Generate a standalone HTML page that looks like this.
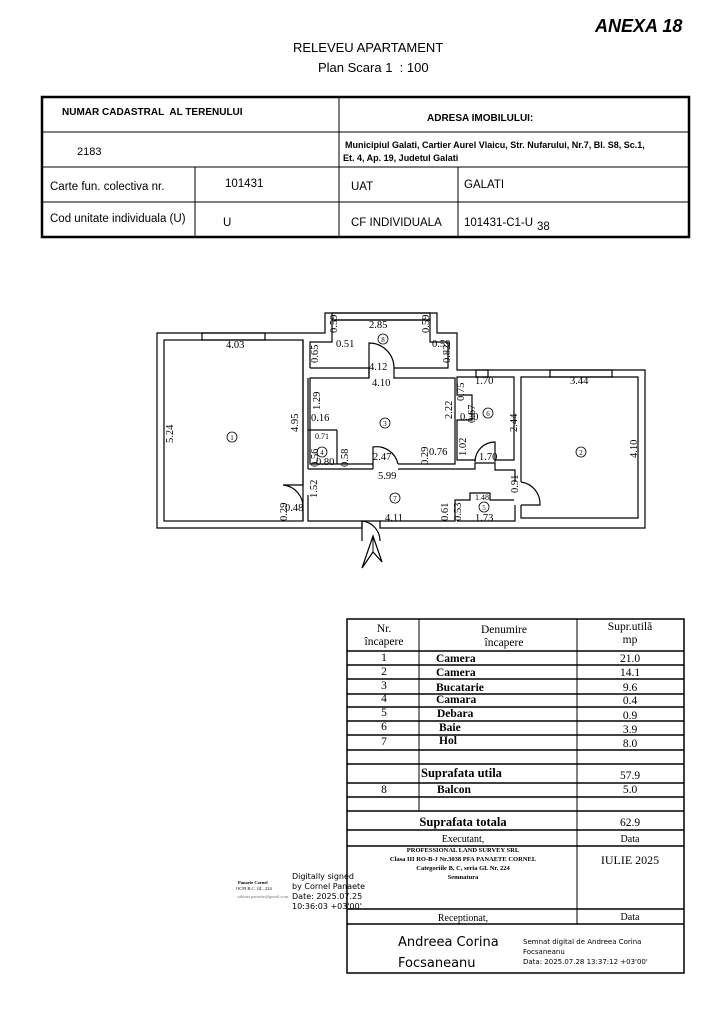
<!DOCTYPE html>
<html><head><meta charset="utf-8"><style>
body{margin:0;background:#fff;width:723px;height:1023px;overflow:hidden;position:relative;font-family:"Liberation Sans",sans-serif}
.a{position:absolute;white-space:nowrap}
svg{position:absolute;left:0;top:0}
</style></head><body>
<div class="a" style="left:595px;top:16px;font-size:18px;font-weight:bold;font-style:italic">ANEXA 18</div>
<div class="a" style="left:293px;top:40px;font-size:13px">RELEVEU APARTAMENT</div>
<div class="a" style="left:318px;top:60px;font-size:13px">Plan Scara 1&nbsp; : 100</div>

<svg width="723" height="1023" viewBox="0 0 723 1023" font-family="Liberation Serif, serif" font-size="10.5">
<g stroke="#000" fill="none">
<rect x="42" y="97" width="647" height="140" stroke-width="2.5"/>
<line x1="42" y1="132" x2="689" y2="132" stroke-width="1"/>
<line x1="42" y1="167" x2="689" y2="167"/>
<line x1="42" y1="202" x2="689" y2="202"/>
<line x1="339" y1="97" x2="339" y2="237"/>
<line x1="195" y1="167" x2="195" y2="237"/>
<line x1="458" y1="167" x2="458" y2="237"/>
</g>
<g font-family="Liberation Sans, sans-serif">
<text x="62" y="115" font-size="10" font-weight="bold">NUMAR CADASTRAL&#160; AL TERENULUI</text>
<text x="427" y="121" font-size="10" font-weight="bold">ADRESA IMOBILULUI:</text>
<text x="77" y="155" font-size="11">2183</text>
<text x="345" y="148" font-size="9" font-weight="bold">Municipiul Galati, Cartier Aurel Vlaicu, Str. Nufarului, Nr.7, Bl. S8, Sc.1,</text>
<text x="343" y="161" font-size="9" font-weight="bold">Et. 4, Ap. 19, Judetul Galati</text>
<text x="50" y="190" font-size="11.5">Carte fun. colectiva nr.</text>
<text x="225" y="187" font-size="11.5">101431</text>
<text x="351" y="190" font-size="11.5">UAT</text>
<text x="464" y="188" font-size="11.5">GALATI</text>
<text x="50" y="222" font-size="11.5">Cod unitate individuala (U)</text>
<text x="223" y="226" font-size="11.5">U</text>
<text x="351" y="226" font-size="11.5">CF INDIVIDUALA</text>
<text x="464" y="226" font-size="11.5">101431-C1-U</text>
<text x="537" y="230" font-size="11.5">38</text>
</g>

<g stroke="#000" stroke-width="1.2" fill="none">
<polygon points="157,333 325,333 325,313 437,313 437,333 457,333 457,370 645,370 645,528 380,528 380,521 362,521 362,528 157,528"/>
<rect x="164" y="340" width="139" height="181"/>
<polyline points="310,368 310,342 332,342 332,320 430,320 430,342 448,342 448,368 394,368"/>
<line x1="310" y1="368" x2="369" y2="368"/>
<polyline points="369,368 369,378 310,378 310,464 373,464"/>
<polyline points="394,368 394,378 455,378 455,464 398,464"/>
<polyline points="303,340 303,485"/><polyline points="308,378 308,469"/>
<polyline points="303,508 303,521"/>
<polyline points="308,469 373,469"/><polyline points="398,469 475,469 475,463 495,463 495,470 515,470 515,482"/>
<polyline points="515,505 515,521 457,521"/>
<polyline points="308,495 308,521 362,521"/><polyline points="380,521 455,521 455,500 470,500 470,493 490,493 490,500 514,500"/>
<line x1="308" y1="430" x2="337" y2="430"/><line x1="337" y1="430" x2="337" y2="464"/>
<polyline points="475,460 457,460 457,420 472,420 472,395 457,395 457,377 514,377 514,460 495,460"/>
<polyline points="521,482 521,377 638,377 638,518 521,518 521,505"/>
<rect x="202" y="333" width="63" height="7"/><rect x="550" y="370" width="62" height="7"/>
<rect x="476" y="370" width="12" height="7"/><rect x="332" y="313" width="98" height="7"/>
<path d="M369,378 L369,343 A25,25 0 0 1 394,368"/>
<path d="M373,469 L373,447 A22,22 0 0 1 398,464"/>
<path d="M475,462 A20,20 0 0 1 495,442 L495,462"/>
<path d="M303,485 L283,485 A22,22 0 0 1 303,508"/>
<path d="M362,541 L362,521 M362,521 A20,20 0 0 1 380,541"/>
<path d="M521,482 A22,22 0 0 1 540,505 L521,505"/>
</g>
<path d="M362,568 L373,536 L382,562 L373,552 Z" fill="none" stroke="#000" stroke-width="1.2"/>
<line x1="373" y1="536" x2="373" y2="552" stroke="#000"/>
<g fill="#000">
<text x="226" y="348">4.03</text><text x="369" y="328">2.85</text>
<text x="336" y="347">0.51</text><text x="432" y="347">0.59</text>
<text x="369" y="370">4.12</text><text x="372" y="386">4.10</text>
<text x="475" y="384">1.70</text><text x="570" y="384">3.44</text>
<text x="311" y="421">0.16</text><text x="315" y="439" font-size="8">0.71</text>
<text x="316" y="465">0.80</text><text x="373" y="460">2.47</text>
<text x="429" y="455">0.76</text><text x="378" y="479">5.99</text>
<text x="460" y="420">0.30</text><text x="479" y="460">1.70</text>
<text x="385" y="521">4.11</text><text x="285" y="511">0.48</text>
<text x="475" y="500" font-size="8">1.48</text><text x="475" y="521">1.73</text>
<text transform="translate(173,443) rotate(-90)">5.24</text>
<text transform="translate(298,432) rotate(-90)">4.95</text>
<text transform="translate(337,333) rotate(-90)">0.59</text>
<text transform="translate(429,333) rotate(-90)">0.59</text>
<text transform="translate(318,363) rotate(-90)">0.65</text>
<text transform="translate(450,363) rotate(-90)">0.82</text>
<text transform="translate(320,410) rotate(-90)">1.29</text>
<text transform="translate(452,419) rotate(-90)">2.22</text>
<text transform="translate(464,401) rotate(-90)">0.75</text>
<text transform="translate(475,423) rotate(-90)">0.67</text>
<text transform="translate(517,432) rotate(-90)">2.44</text>
<text transform="translate(466,456) rotate(-90)">1.02</text>
<text transform="translate(318,467) rotate(-90)">0.56</text>
<text transform="translate(348,467) rotate(-90)">0.58</text>
<text transform="translate(428,465) rotate(-90)">0.29</text>
<text transform="translate(317,498) rotate(-90)">1.52</text>
<text transform="translate(518,493) rotate(-90)">0.91</text>
<text transform="translate(448,521) rotate(-90)">0.61</text>
<text transform="translate(461,521) rotate(-90)">0.53</text>
<text transform="translate(287,521) rotate(-90)">0.29</text>
<text transform="translate(637,458) rotate(-90)">4.10</text>
</g>
<g fill="none" stroke="#000" stroke-width="0.8">
<circle cx="232" cy="437" r="5"/><circle cx="383" cy="339" r="5"/><circle cx="385" cy="423" r="5"/>
<circle cx="322" cy="452" r="5"/><circle cx="488" cy="413" r="5"/><circle cx="395" cy="498" r="5"/>
<circle cx="484" cy="507" r="5"/><circle cx="581" cy="452" r="5"/>
</g>
<g font-size="7" text-anchor="middle">
<text x="232" y="440">1</text><text x="383" y="342">8</text><text x="385" y="426">3</text><text x="322" y="455">4</text>
<text x="488" y="416">6</text><text x="395" y="501">7</text><text x="484" y="510">5</text><text x="581" y="455">2</text>
</g>

<g stroke="#000" fill="none">
<rect x="347" y="619" width="337" height="354" stroke-width="1.5"/>
<g stroke-width="1.5">
<line x1="347" y1="651" x2="684" y2="651"/><line x1="347" y1="665" x2="684" y2="665"/>
<line x1="347" y1="679" x2="684" y2="679"/><line x1="347" y1="694" x2="684" y2="694"/>
<line x1="347" y1="707" x2="684" y2="707"/><line x1="347" y1="721" x2="684" y2="721"/>
<line x1="347" y1="735" x2="684" y2="735"/><line x1="347" y1="750" x2="684" y2="750"/>
<line x1="347" y1="764" x2="684" y2="764"/><line x1="347" y1="783" x2="684" y2="783"/>
<line x1="347" y1="797" x2="684" y2="797"/><line x1="347" y1="811" x2="684" y2="811"/>
<line x1="347" y1="830" x2="684" y2="830"/><line x1="347" y1="846" x2="684" y2="846"/>
<line x1="347" y1="909" x2="684" y2="909"/><line x1="347" y1="924" x2="684" y2="924"/>
</g>
<line x1="419" y1="619" x2="419" y2="811"/>
<line x1="577" y1="619" x2="577" y2="924"/>
</g>
<g fill="#000" font-size="11.5">
<g text-anchor="middle">
<text x="384" y="632">Nr.</text><text x="384" y="645">încapere</text>
<text x="504" y="633">Denumire</text><text x="504" y="646">încapere</text>
<text x="630" y="630">Supr.utilă</text><text x="630" y="643">mp</text>
<text x="384" y="661">1</text><text x="384" y="675">2</text><text x="384" y="689">3</text><text x="384" y="702">4</text>
<text x="384" y="716">5</text><text x="384" y="730">6</text><text x="384" y="745">7</text><text x="384" y="793">8</text>
<text x="630" y="662">21.0</text><text x="630" y="676">14.1</text><text x="630" y="691">9.6</text><text x="630" y="704">0.4</text>
<text x="630" y="719">0.9</text><text x="630" y="733">3.9</text><text x="630" y="747">8.0</text>
<text x="630" y="779">57.9</text><text x="630" y="793">5.0</text><text x="630" y="826">62.9</text>
<text x="463" y="842" font-size="10">Executant,</text><text x="630" y="842" font-size="10">Data</text>
<text x="630" y="864" font-size="12">IULIE 2025</text>
<text x="463" y="921" font-size="10">Receptionat,</text><text x="630" y="920" font-size="10">Data</text>
<text x="463" y="826" font-size="12.5" font-weight="bold">Suprafata totala</text>
</g>
<g font-weight="bold">
<text x="436" y="662">Camera</text><text x="436" y="676">Camera</text><text x="436" y="691">Bucatarie</text>
<text x="436" y="703">Camara</text><text x="437" y="717">Debara</text><text x="439" y="731">Baie</text>
<text x="439" y="744">Hol</text><text x="437" y="793">Balcon</text>
<text x="421" y="777" font-size="12.5">Suprafata utila</text>
</g>
<g font-weight="bold" font-size="6.5" text-anchor="middle">
<text x="463" y="852">PROFESSIONAL LAND SURVEY SRL</text>
<text x="463" y="861">Clasa III RO-B-J Nr.3038 PFA PANAETE CORNEL</text>
<text x="463" y="870">Categoriile B, C, seria GL Nr. 224</text>
<text x="463" y="879">Semnatura</text>
</g>
</g>
<g font-family="DejaVu Sans, sans-serif" fill="#000">
<text x="398" y="946" font-size="13">Andreea Corina</text>
<text x="398" y="967" font-size="13">Focsaneanu</text>
<text x="523" y="944" font-size="7">Semnat digital de Andreea Corina</text>
<text x="523" y="954" font-size="7">Focsaneanu</text>
<text x="523" y="964" font-size="7">Data: 2025.07.28 13:37:12 +03'00'</text>
<text x="292" y="879" font-size="8">Digitally signed</text>
<text x="292" y="889" font-size="8">by Cornel Panaete</text>
<text x="292" y="899" font-size="8">Date: 2025.07.25</text>
<text x="292" y="909" font-size="8">10:36:03 +03'00'</text>
</g>
<g font-size="4.5" fill="#000">
<text x="238" y="884" font-weight="bold">Panaete Cornel</text>
<text x="236" y="890">OCPI B.C. GL. 224</text>
<text x="237" y="898" fill="#777">cabinet.panaete@gmail.com</text>
</g>
</svg>
</body></html>
